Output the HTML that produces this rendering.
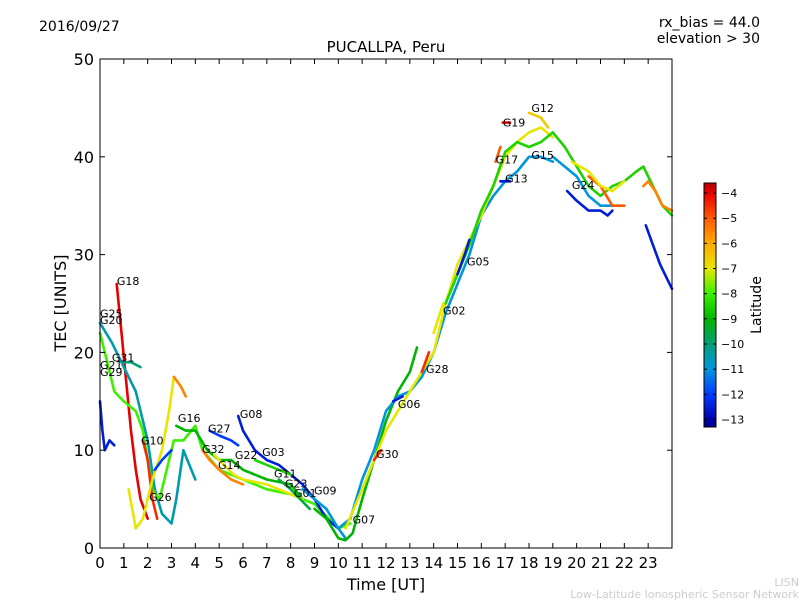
<!DOCTYPE html>
<html><head><meta charset="utf-8">
<style>
body{margin:0;background:#fff;}
svg{display:block;font-family:"DejaVu Sans","Liberation Sans",sans-serif;}
</style></head>
<body>
<svg id="chart" width="800" height="600" viewBox="0 0 800 600" xmlns="http://www.w3.org/2000/svg">
<rect width="800" height="600" fill="#fff"/>
<text x="39" y="31" font-size="14">2016/09/27</text>
<text x="386" y="52" font-size="15" text-anchor="middle">PUCALLPA, Peru</text>
<text x="760" y="27" font-size="14" text-anchor="end">rx_bias = 44.0</text>
<text x="760" y="43" font-size="14" text-anchor="end">elevation &gt; 30</text>
<text x="386" y="590" font-size="16" text-anchor="middle">Time [UT]</text>
<text x="66" y="303" font-size="16" text-anchor="middle" transform="rotate(-90 66 303)">TEC [UNITS]</text>
<text x="799" y="586" font-size="11" fill="#ccc" text-anchor="end">LISN</text>
<text x="799" y="598" font-size="11" fill="#ccc" text-anchor="end">Low-Latitude Ionospheric Sensor Network</text>
<defs><linearGradient id="cmap" x1="0" y1="1" x2="0" y2="0" id-note="">
</linearGradient></defs>
<g id="plot"></g>
<g id="axes"></g>
<g id="cbar"></g>
</svg>
<script>
const xTicks=[0,1,2,3,4,5,6,7,8,9,10,11,12,13,14,15,16,17,18,19,20,21,22,23];
const yTicks=[0,10,20,30,40,50];
const cbTicks=[-4,-5,-6,-7,-8,-9,-10,-11,-12,-13];
const seriesNames=["G18","G25","G20","G31","G21","G10","G26a","G26b","G26c","G16","G27","G08","G32","G14","G03","G11","G09","G07","DayA","DayB","G15","G12","G19","G17","G13","G24","EveA","EveB","EveC","LateA","LateB","G05","G02","G28","G06","G30"];
const seriesLat=[-4,-10.5,-8,-10,-12.5,-4.5,-7,-12,-5.5,-9,-12,-12.5,-5.5,-7,-8.5,-9.5,-11,-9,-11,-7,-8.5,-6.5,-4,-5,-12.5,-12.5,-11,-5,-7,-12.5,-5.5,-12.5,-7,-4.5,-12.5,-4.5];
const seriesHours=[
[0.7,0.9,1.1,1.3,1.5,1.7,2],
[0,0.5,1,1.5,2,2.3,2.6,3,3.2,3.5,4],
[0,0.3,0.6,1,1.5,1.8,2.2,2.5,2.8,3.1,3.5,4,4.3,5,6,7,8,9,10,10.5],
[1,1.3,1.7],
[0,0.1,0.2,0.4,0.6],
[1.8,2,2.2,2.4],
[1.2,1.5,1.8,2.2,2.6,2.9,3.1],
[2.3,2.6,3],
[3.1,3.4,3.6],
[3.2,3.6,4,4.5,5,5.5,6,7,8,8.5],
[4.6,5,5.5,5.8],
[5.8,6,6.5,7,7.5,8,8.5,9,9.5,10],
[4.3,4.6,5,5.5,6],
[4.8,5.2,5.6,6,7,8,8.5],
[6.5,7,7.5,8],
[7.5,8,8.4,8.8],
[8.5,9,9.5,10,10.3],
[9,9.5,10,10.3,10.6,11,11.5,12,12.5,13,13.3],
[10,10.5,11,11.5,12,12.5,13,13.5,14,14.5,15,15.5,16,16.5,17,17.5,18,18.5,19],
[10.3,11,12,13,14,14.5,15,16,16.5,17,17.5,18,18.5,19],
[14.5,15,15.5,16,16.5,17,17.5,18,18.5,19,19.5,20,20.5,21,21.5,22,22.5,22.8,23.2,23.6,24],
[18,18.5,18.8],
[16.9,17.2],
[16.6,16.8],
[16.8,17.2],
[19.6,20,20.5,21,21.3,21.5],
[19,19.5,20,20.5,21,21.5],
[20.5,21,21.5,22],
[19.8,20.5,21,21.5,22],
[22.9,23.2,23.5,23.8,24],
[22.8,23,23.3,23.6,24],
[15,15.3,15.5],
[14,14.4],
[13.5,13.8],
[12.3,12.7],
[11.5,11.8]
];
const seriesTec=[
[27,22,17,12,8,5,3],
[23,21,18.5,16,11,6,3.5,2.5,5,10,7],
[22,19,16,15,14,12,6,5,8,11,11,12.5,10,8,7,6,5.5,4.5,2,2.5],
[19,19,18.5],
[15,12,10,11,10.5],
[11,9,5,3],
[6,2,3,7,10,14,17.5],
[8,9,10],
[17.5,16.5,15.5],
[12.5,12,12,10,9,9,8,7,6.5,5],
[12,11.5,11,10.5],
[13.5,12,10,9,8.5,7.5,6.5,5,3,2],
[10,9,8,7,6.5],
[9.5,8.5,7.5,7,6.5,5.5,5],
[9,8.5,8,7.5],
[7,6,5,4],
[6,5,4,2,1],
[4,3,1,0.8,1.5,5,9,13,16,18,20.5],
[2,3,7,10,14,15.5,16,17.5,20,24,27,30,34,36,37.5,38.5,40,40,39.5],
[2,6,12,16,20,25,29,34,37,40,41.5,42.5,43,42],
[25,28,31,34.5,37,40.5,41.5,41,41.5,42.5,41,39,37,36,37,37.5,38.5,39,37,35,34],
[44.5,44,43],
[43.5,43.5],
[39.5,41],
[37.5,37.5],
[36.5,35.5,34.5,34.5,34,34.5],
[40,39,38,36,35,35],
[38,37,35,35],
[39.5,38.5,37,36.5,37.5],
[33,31,29,27.5,26.5],
[37,37.5,36.5,35,34.5],
[28,30,31.5],
[22,25],
[18,20],
[15,15.5],
[9,10]
];
const labelNames=["G18","G25","G20","G31","G21","G29","G10","G26","G16","G27","G08","G32","G22","G14","G03","G11","G23","G01","G09","G07","G30","G06","G28","G02","G05","G17","G19","G13","G15","G12","G24"];
const labelHour=[0.71,0,0,0.5,0,0,1.72,2.06,3.27,4.53,5.87,4.28,5.66,4.95,6.8,7.3,7.76,8.14,8.98,10.6,11.58,12.5,13.68,14.39,15.4,16.6,16.9,17.0,18.1,18.1,19.8];
const labelTec=[27.2,23.9,23.2,19.4,18.6,17.9,10.9,5.1,13.2,12.1,13.6,10.0,9.4,8.4,9.7,7.5,6.5,5.5,5.8,2.8,9.5,14.6,18.2,24.2,29.2,39.6,43.4,37.7,40.1,44.9,37.0];

const X0=100,X1=672,Y0=548,Y1=59;
const xs=h=>X0+h*(X1-X0)/24;
const ys=v=>Y0-v*(Y0-Y1)/50;
const cbTop=183,cbBot=427,cbMax=-3.6,cbMin=-13.3;
const cs=v=>cbBot-(v-cbMin)*(cbBot-cbTop)/(cbMax-cbMin);
const NS="http://www.w3.org/2000/svg";
function mk(tag,attrs,parent){const e=document.createElementNS(NS,tag);for(const k in attrs)e.setAttribute(k,attrs[k]);parent.appendChild(e);return e;}
// colormap stops (latitude -> rgb)
const cmLat=[-13.3,-13,-12,-11,-10,-9,-8,-7,-6,-5,-4,-3.6];
const cmCol=[[0,0,140],[0,0,170],[0,60,255],[0,150,220],[0,160,120],[0,180,0],[60,240,0],[230,230,0],[255,170,0],[255,90,0],[230,0,0],[180,0,0]];
function cmap(lat){
 lat=Math.max(cmLat[0],Math.min(cmLat[cmLat.length-1],lat));
 for(let i=0;i<cmLat.length-1;i++){
  if(lat<=cmLat[i+1]){const f=(lat-cmLat[i])/(cmLat[i+1]-cmLat[i]);
   const c=cmCol[i].map((v,k)=>Math.round(v+(cmCol[i+1][k]-v)*f));
   return `rgb(${c[0]},${c[1]},${c[2]})`;}
 }
 return 'rgb(180,0,0)';
}
const grad=document.getElementById('cmap');
cmLat.forEach((l,i)=>{mk('stop',{offset:((l-cmMinSafe())/(cmLat[cmLat.length-1]-cmLat[0])).toFixed(3),'stop-color':cmap(l)},grad);});
function cmMinSafe(){return cmLat[0];}
const plot=document.getElementById('plot');
seriesNames.forEach((n,i)=>{
 const d=seriesHours[i].map((h,j)=>(j?'L':'M')+xs(h).toFixed(1)+','+ys(seriesTec[i][j]).toFixed(1)).join('');
 const p=mk('path',{d:d,fill:'none',stroke:cmap(seriesLat[i]),'stroke-width':2.6,'stroke-linejoin':'round','stroke-linecap':'round'},plot);
 
 
});
labelNames.forEach((n,i)=>{
 const t=mk('text',{x:xs(labelHour[i]),y:ys(labelTec[i]),'font-size':11,'dominant-baseline':'middle'},plot);
 t.textContent=n;
 
 
});
const ax=document.getElementById('axes');
const fr=mk('rect',{x:X0,y:Y1,width:X1-X0,height:Y0-Y1,fill:'none',stroke:'#000','stroke-width':1},ax);


xTicks.forEach(t=>{
 const x=xs(t);
 mk('line',{x1:x,x2:x,y1:Y0,y2:Y0-5,stroke:'#000'},ax);
 mk('line',{x1:x,x2:x,y1:Y1,y2:Y1+5,stroke:'#000'},ax);
 const l=mk('text',{x:x,y:Y0+20,'font-size':15,'text-anchor':'middle'},ax);
 l.textContent=t;
 
 
});
yTicks.forEach(t=>{
 const y=ys(t);
 mk('line',{x1:X0,x2:X0+5,y1:y,y2:y,stroke:'#000'},ax);
 mk('line',{x1:X1,x2:X1-5,y1:y,y2:y,stroke:'#000'},ax);
 const l=mk('text',{x:X0-6,y:y+6,'font-size':16,'text-anchor':'end'},ax);
 l.textContent=t;
 
 
});
const cb=document.getElementById('cbar');
mk('rect',{x:704,y:cbTop,width:12,height:cbBot-cbTop,fill:'url(#cmap)',stroke:'#000','stroke-width':1},cb);
cbTicks.forEach(t=>{
 const y=cs(t);
 mk('line',{x1:704,x2:707,y1:y,y2:y,stroke:'#000'},cb);
 mk('line',{x1:716,x2:713,y1:y,y2:y,stroke:'#000'},cb);
 const l=mk('text',{x:721,y:y+4,'font-size':11},cb);
 l.textContent='\u2212'+Math.abs(t);
 
 
});
const ct=mk('text',{x:761,y:305,'font-size':14,'text-anchor':'middle',transform:'rotate(-90 761 305)'},cb);
ct.textContent='Latitude';


</script>
</body></html>
